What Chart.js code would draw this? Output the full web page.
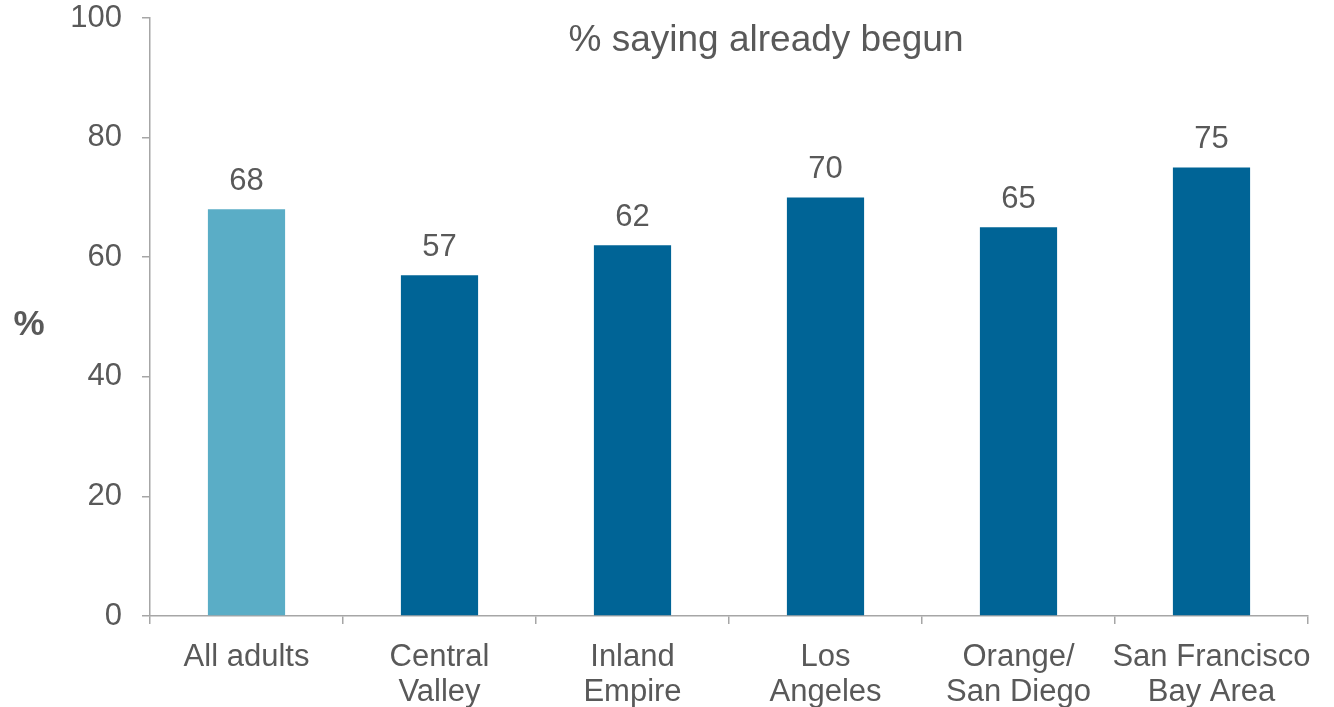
<!DOCTYPE html>
<html>
<head>
<meta charset="utf-8">
<script src="https://cdn.jsdelivr.net/npm/chart.js@4/dist/chart.umd.min.js"></script>
<style>
  html, body { margin: 0; padding: 0; background: #fff; }
  #wrap { width: 1334px; height: 707px; }
</style>
</head>
<body>
<div id="wrap"><canvas id="regionChart"></canvas></div>
<script>
// values
const regions = [["All adults"], ["Central", "Valley"], ["Inland", "Empire"], ["Los", "Angeles"], ["Orange/", "San Diego"], ["San Francisco", "Bay Area"]];
const alreadyBegun = [68, 57, 62, 70, 65, 75];
const barColors = ["#5aadc6", "#006496", "#006496", "#006496", "#006496", "#006496"];
const yTicks = [0, 20, 40, 60, 80, 100];

const textGrey = '#595959';
const font = '"Liberation Sans", Arial, sans-serif';

// value labels above bars, plot title and the "%" axis label
const extras = {
    id: 'extras',
    afterDatasetsDraw(chart) {
        const ctx = chart.ctx;
        ctx.save();
        ctx.fillStyle = textGrey;
        ctx.font = '31px ' + font;
        ctx.textAlign = 'center';
        ctx.textBaseline = 'middle';
        chart.getDatasetMeta(0).data.forEach((bar, i) => {
            ctx.fillText(alreadyBegun[i], bar.x, bar.y - 28);
        });
        ctx.font = '37px ' + font;
        ctx.fillText('% saying already begun', 766, 41);
        ctx.font = 'bold 35px ' + font;
        ctx.fillText('%', 29, 325);
        ctx.restore();
    }
};

new Chart(document.getElementById('regionChart'), {
    type: 'bar',
    data: {
        labels: regions,
        datasets: [{ data: alreadyBegun, backgroundColor: barColors, barPercentage: 0.4, categoryPercentage: 1 }]
    },
    options: {
        responsive: true,
        maintainAspectRatio: false,
        animation: false,
        layout: { padding: { top: 18, right: 26, left: 0, bottom: 0 } },
        plugins: { legend: { display: false }, tooltip: { enabled: false } },
        scales: {
            x: {
                grid: { display: true, drawOnChartArea: false, offset: true, tickLength: 8, tickColor: '#a6a6a6', lineWidth: 1.5 },
                border: { color: '#a6a6a6', width: 1.5 },
                ticks: { color: textGrey, font: { family: font, size: 31, lineHeight: 1.13 }, padding: 16, maxRotation: 0, autoSkip: false },
                afterFit: s => { s.height = 91; }
            },
            y: {
                min: 0, max: 100,
                afterBuildTicks: s => { s.ticks = yTicks.map(v => ({ value: v })); },
                grid: { display: true, drawOnChartArea: false, tickLength: 8, tickColor: '#a6a6a6', lineWidth: 1.5 },
                border: { color: '#a6a6a6', width: 1.5 },
                ticks: { color: textGrey, font: { family: font, size: 31 }, padding: 20 },
                afterFit: s => { s.width = 150; s.paddingTop = 0; }
            }
        }
    },
    plugins: [extras]
});
</script>
</body>
</html>
